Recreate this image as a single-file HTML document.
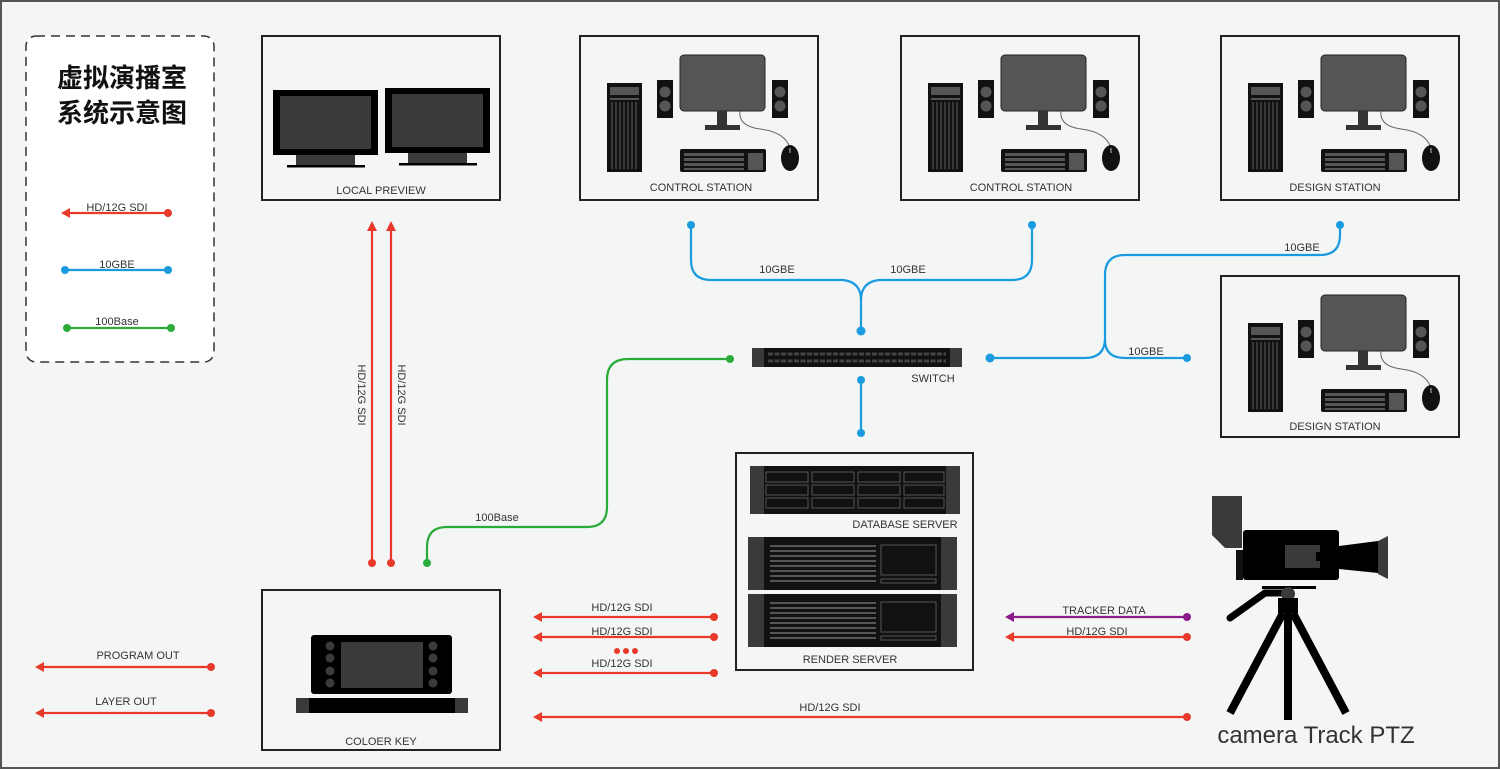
<!DOCTYPE html>
<html><head><meta charset="utf-8"><style>
html,body{margin:0;padding:0;background:#f4f6f6}
svg{display:block}
text{font-family:"Liberation Sans","Noto Sans CJK SC",sans-serif;fill:#333;font-size:11px}
</style></head><body>
<svg width="1500" height="769" viewBox="0 0 1500 769" xmlns="http://www.w3.org/2000/svg">
<defs>
<g id="wsc">
  <rect x="27" y="47" width="35" height="89" fill="#111"/>
  <rect x="30" y="51" width="29" height="8" fill="#555"/>
  <rect x="30" y="62" width="29" height="2" fill="#555"/>
  <g stroke="#555" stroke-width="1.2">
    <line x1="32" y1="66" x2="32" y2="133"/><line x1="36" y1="66" x2="36" y2="133"/><line x1="40" y1="66" x2="40" y2="133"/><line x1="44" y1="66" x2="44" y2="133"/><line x1="48" y1="66" x2="48" y2="133"/><line x1="52" y1="66" x2="52" y2="133"/><line x1="56" y1="66" x2="56" y2="133"/>
  </g>
  <rect x="77" y="44" width="16" height="38" fill="#111"/>
  <circle cx="85" cy="56" r="5.5" fill="#555"/><circle cx="85" cy="70" r="5.5" fill="#555"/>
  <rect x="192" y="44" width="16" height="38" fill="#111"/>
  <circle cx="200" cy="56" r="5.5" fill="#555"/><circle cx="200" cy="70" r="5.5" fill="#555"/>
  <rect x="100" y="19" width="85" height="56" rx="4" fill="#555" stroke="#222" stroke-width="1"/>
  <rect x="137" y="75" width="10" height="14" fill="#333"/>
  <rect x="125" y="89" width="35" height="5" fill="#333"/>
  <path d="M160 75 Q158 90 180 93 Q205 96 210 112" fill="none" stroke="#666" stroke-width="1"/>
  <rect x="100" y="113" width="86" height="23" rx="2" fill="#111"/>
  <g fill="#555">
    <rect x="104" y="117" width="60" height="3"/><rect x="104" y="122" width="60" height="3"/><rect x="104" y="127" width="60" height="3"/><rect x="104" y="132" width="60" height="2"/>
    <rect x="168" y="117" width="15" height="17"/>
  </g>
  <ellipse cx="210" cy="122" rx="9" ry="13" fill="#111"/>
  <rect x="209" y="112" width="2" height="5" fill="#666"/>
</g>
<g id="ws">
  <rect x="0" y="0" width="238" height="164" fill="#f4f6f6" stroke="#222" stroke-width="2"/>
  <use href="#wsc"/>
</g>
<g id="rs">
  <rect x="0" y="0" width="209" height="53" fill="#111"/>
  <rect x="0" y="0" width="16" height="53" fill="#3a3a3a"/>
  <rect x="193" y="0" width="16" height="53" fill="#3a3a3a"/>
  <g fill="#555"><rect x="22" y="8" width="106" height="2"/><rect x="22" y="13" width="106" height="2"/><rect x="22" y="18" width="106" height="2"/><rect x="22" y="23" width="106" height="2"/><rect x="22" y="28" width="106" height="2"/><rect x="22" y="33" width="106" height="2"/><rect x="22" y="38" width="106" height="2"/><rect x="22" y="43" width="106" height="2"/></g>
  <rect x="133" y="8" width="55" height="30" fill="none" stroke="#555" stroke-width="1"/>
  <rect x="133" y="42" width="55" height="4" fill="none" stroke="#555" stroke-width="1"/>
</g>
</defs>
<rect x="1" y="1" width="1498" height="767" fill="#f4f6f6" stroke="#555" stroke-width="2"/>

<!-- legend -->
<rect x="26" y="36" width="188" height="326" rx="10" fill="#fff" stroke="#333" stroke-width="1.5" stroke-dasharray="9,6"/>
<text x="122" y="87" text-anchor="middle" style="font-size:26px;font-weight:bold;fill:#111">虚拟演播室</text>
<text x="122" y="122" text-anchor="middle" style="font-size:26px;font-weight:bold;fill:#111">系统示意图</text>

<!-- boxes -->
<rect x="262" y="36" width="238" height="164" fill="#f4f6f6" stroke="#222" stroke-width="2"/>
<rect x="273" y="90" width="105" height="65" fill="#000"/><rect x="280" y="96" width="91" height="53" fill="#3a3a3a"/>
<rect x="296" y="155" width="59" height="10" fill="#3a3a3a"/><rect x="287" y="165" width="78" height="2.5" fill="#000"/>
<rect x="385" y="88" width="105" height="65" fill="#000"/><rect x="392" y="94" width="91" height="53" fill="#3a3a3a"/>
<rect x="408" y="153" width="59" height="10" fill="#3a3a3a"/><rect x="399" y="163" width="78" height="2.5" fill="#000"/>
<text x="381" y="194" text-anchor="middle">LOCAL PREVIEW</text>

<use href="#ws" x="580" y="36"/><text x="701" y="191" text-anchor="middle">CONTROL STATION</text>
<use href="#ws" x="901" y="36"/><text x="1021" y="191" text-anchor="middle">CONTROL STATION</text>
<use href="#ws" x="1221" y="36"/><text x="1335" y="191" text-anchor="middle">DESIGN STATION</text>
<rect x="1221" y="276" width="238" height="161" fill="#f4f6f6" stroke="#222" stroke-width="2"/>
<use href="#wsc" x="1221" y="276"/>
<text x="1335" y="430" text-anchor="middle">DESIGN STATION</text>

<!-- switch -->
<rect x="752" y="348" width="210" height="19" fill="#111"/>
<rect x="752" y="348" width="12" height="19" fill="#3a3a3a"/><rect x="950" y="348" width="12" height="19" fill="#3a3a3a"/>
<line x1="768" y1="354" x2="946" y2="354" stroke="#444" stroke-width="3" stroke-dasharray="5,1.5"/>
<line x1="768" y1="361" x2="946" y2="361" stroke="#444" stroke-width="3" stroke-dasharray="5,1.5"/>
<text x="933" y="382" text-anchor="middle">SWITCH</text>

<!-- server box -->
<rect x="736" y="453" width="237" height="217" fill="#f4f6f6" stroke="#222" stroke-width="2"/>
<rect x="750" y="466" width="210" height="48" fill="#111"/>
<rect x="750" y="466" width="14" height="48" fill="#3a3a3a"/><rect x="946" y="466" width="14" height="48" fill="#3a3a3a"/>
<g fill="none" stroke="#555" stroke-width="1">
<rect x="766" y="472" width="42" height="10"/><rect x="812" y="472" width="42" height="10"/><rect x="858" y="472" width="42" height="10"/><rect x="904" y="472" width="40" height="10"/>
<rect x="766" y="485" width="42" height="10"/><rect x="812" y="485" width="42" height="10"/><rect x="858" y="485" width="42" height="10"/><rect x="904" y="485" width="40" height="10"/>
<rect x="766" y="498" width="42" height="10"/><rect x="812" y="498" width="42" height="10"/><rect x="858" y="498" width="42" height="10"/><rect x="904" y="498" width="40" height="10"/>
</g>
<text x="905" y="528" text-anchor="middle">DATABASE SERVER</text>
<use href="#rs" x="748" y="537"/>
<use href="#rs" x="748" y="594"/>
<text x="850" y="663" text-anchor="middle">RENDER SERVER</text>

<!-- coloer key -->
<rect x="262" y="590" width="238" height="160" fill="#f4f6f6" stroke="#222" stroke-width="2"/>
<rect x="311" y="635" width="141" height="59" rx="3" fill="#000"/>
<rect x="341" y="642" width="82" height="46" fill="#3a3a3a"/>
<g fill="#3a3a3a"><circle cx="330" cy="646" r="4.5"/><circle cx="330" cy="658" r="4.5"/><circle cx="330" cy="671" r="4.5"/><circle cx="330" cy="683" r="4.5"/>
<circle cx="433" cy="646" r="4.5"/><circle cx="433" cy="658" r="4.5"/><circle cx="433" cy="671" r="4.5"/><circle cx="433" cy="683" r="4.5"/></g>
<rect x="296" y="698" width="172" height="15" fill="#000"/>
<rect x="296" y="698" width="13" height="15" fill="#3a3a3a"/><rect x="455" y="698" width="13" height="15" fill="#3a3a3a"/>
<text x="381" y="745" text-anchor="middle">COLOER KEY</text>

<!-- camera -->
<polygon points="1212,496 1242,496 1242,548 1225,548 1212,535" fill="#3a3a3a"/>
<rect x="1236" y="550" width="7" height="30" fill="#111"/>
<rect x="1243" y="530" width="96" height="50" rx="3" fill="#000"/>
<polygon points="1285,545 1320,545 1320,552 1316,552 1316,561 1320,561 1320,568 1285,568" fill="#3a3a3a"/>
<polygon points="1339,546 1378,541 1378,573 1339,569" fill="#000"/>
<polygon points="1378,541 1388,536 1388,579 1378,574" fill="#3a3a3a"/>
<rect x="1262" y="586" width="54" height="3" fill="#000"/>
<path d="M1290 593 L1265 593 L1230 618" stroke="#000" stroke-width="7" fill="none" stroke-linecap="round"/>
<circle cx="1288" cy="594" r="7" fill="#3a3a3a"/>
<rect x="1278" y="598" width="20" height="15" fill="#000"/>
<path d="M1283 613 L1230 713 M1293 613 L1346 713" stroke="#000" stroke-width="8" fill="none"/>
<rect x="1284" y="612" width="8" height="108" fill="#000"/>
<text x="1316" y="743" text-anchor="middle" style="font-size:24px;fill:#333">camera Track PTZ</text>

<!-- connectors -->
<g fill="none" stroke-width="2.2">
<path d="M691 225 V260 Q691 280 711 280 H843 Q861 282 861 300 V331" stroke="#1a9be0"/>
<path d="M1032 225 V260 Q1032 280 1012 280 H879 Q861 282 861 300" stroke="#1a9be0"/>
<path d="M861 380 V433" stroke="#1a9be0"/>
<path d="M990 358 H1085 Q1105 358 1105 338 V275 Q1105 255 1125 255 H1320 Q1340 255 1340 235 V225" stroke="#1a9be0"/>
<path d="M1105 340 Q1105 358 1125 358 H1187" stroke="#1a9be0"/>
<path d="M427 563 V547 Q427 527 447 527 H587 Q607 527 607 507 V380 Q607 359 628 359 H730" stroke="#2aab3a"/>
<path d="M65 270 H168" stroke="#1a9be0"/>
<path d="M67 328 H171" stroke="#2aab3a"/>
<g stroke="#e8392b">
<path d="M372 563 V226"/><path d="M391 563 V226"/>
<path d="M168 213 H66"/><path d="M714 617 H537"/><path d="M714 637 H537"/><path d="M714 673 H537"/>
<path d="M1187 637 H1009"/><path d="M1187 717 H537"/><path d="M211 667 H39"/><path d="M211 713 H39"/>
</g>
<path d="M1187 617 H1009" stroke="#8b1a8b"/>
</g>
<g fill="#e8392b">
<polygon points="372,221 367,231 377,231"/><polygon points="391,221 386,231 396,231"/>
<polygon points="61,213 70,208 70,218"/><polygon points="533,617 542,612 542,622"/><polygon points="533,637 542,632 542,642"/><polygon points="533,673 542,668 542,678"/>
<polygon points="1005,637 1014,632 1014,642"/><polygon points="533,717 542,712 542,722"/>
<polygon points="35,667 44,662 44,672"/><polygon points="35,713 44,708 44,718"/>
<circle cx="372" cy="563" r="4"/><circle cx="391" cy="563" r="4"/><circle cx="168" cy="213" r="4"/>
<circle cx="714" cy="617" r="4"/><circle cx="714" cy="637" r="4"/><circle cx="714" cy="673" r="4"/>
<circle cx="1187" cy="637" r="4"/><circle cx="1187" cy="717" r="4"/><circle cx="211" cy="667" r="4"/><circle cx="211" cy="713" r="4"/>
<circle cx="617" cy="651" r="3"/><circle cx="626" cy="651" r="3"/><circle cx="635" cy="651" r="3"/>
</g>
<polygon points="1005,617 1014,612 1014,622" fill="#8b1a8b"/><circle cx="1187" cy="617" r="4" fill="#8b1a8b"/>
<g fill="#1a9be0">
<circle cx="691" cy="225" r="4"/><circle cx="1032" cy="225" r="4"/><circle cx="861" cy="331" r="4.5"/><circle cx="861" cy="380" r="4"/><circle cx="861" cy="433" r="4"/>
<circle cx="990" cy="358" r="4.5"/><circle cx="1187" cy="358" r="4"/><circle cx="1340" cy="225" r="4"/>
<circle cx="65" cy="270" r="4"/><circle cx="168" cy="270" r="4"/>
</g>
<g fill="#2aab3a"><circle cx="427" cy="563" r="4"/><circle cx="730" cy="359" r="4"/><circle cx="67" cy="328" r="4"/><circle cx="171" cy="328" r="4"/></g>

<!-- labels -->
<text x="117" y="211" text-anchor="middle">HD/12G SDI</text>
<text x="117" y="268" text-anchor="middle">10GBE</text>
<text x="117" y="325" text-anchor="middle">100Base</text>
<text x="777" y="273" text-anchor="middle">10GBE</text>
<text x="908" y="273" text-anchor="middle">10GBE</text>
<text x="1302" y="251" text-anchor="middle">10GBE</text>
<text x="1146" y="355" text-anchor="middle">10GBE</text>
<text x="497" y="521" text-anchor="middle">100Base</text>
<text transform="translate(358,395) rotate(90)" text-anchor="middle">HD/12G SDI</text>
<text transform="translate(398,395) rotate(90)" text-anchor="middle">HD/12G SDI</text>
<text x="622" y="611" text-anchor="middle">HD/12G SDI</text>
<text x="622" y="635" text-anchor="middle">HD/12G SDI</text>
<text x="622" y="667" text-anchor="middle">HD/12G SDI</text>
<text x="1104" y="614" text-anchor="middle">TRACKER DATA</text>
<text x="1097" y="635" text-anchor="middle">HD/12G SDI</text>
<text x="830" y="711" text-anchor="middle">HD/12G SDI</text>
<text x="138" y="659" text-anchor="middle">PROGRAM OUT</text>
<text x="126" y="705" text-anchor="middle">LAYER OUT</text>
</svg>
</body></html>
